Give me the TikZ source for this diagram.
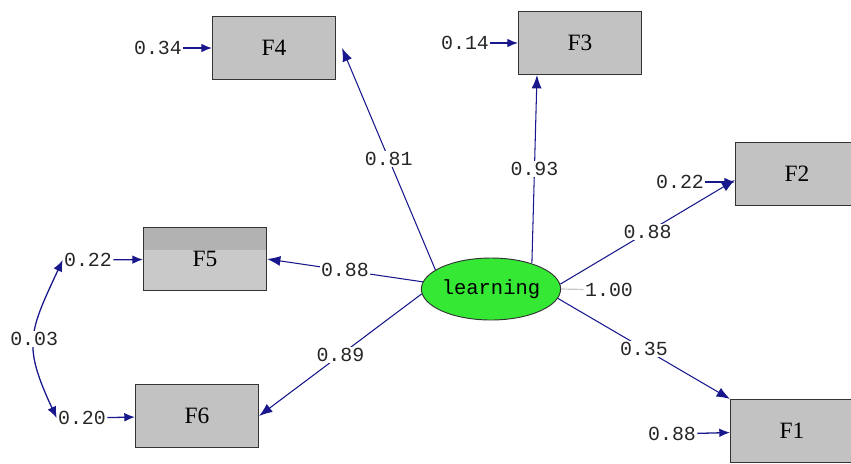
\documentclass[tikz,border=0pt]{standalone}
\usepackage{fontspec}
\setmainfont{Liberation Serif}
\setmonofont{Liberation Mono}
\usetikzlibrary{shapes.geometric,arrows.meta}
\definecolor{pathblue}{RGB}{24,24,140}
\definecolor{boxgray}{RGB}{194,194,194}
\definecolor{latgreen}{RGB}{52,232,52}

\begin{document}
\begin{tikzpicture}[x=0.03cm,y=0.03cm]
    \tikzstyle{var}=[rectangle, fill=boxgray, draw=black!80, line width=1.2pt, minimum width=3.68cm, minimum height=1.88cm, inner sep=0pt, font=\fontsize{20}{22}\selectfont]
    \tikzstyle{lat}=[ellipse, fill=latgreen, draw=black!80, line width=0.8pt, minimum width=3.72cm, minimum height=1.86cm, inner sep=0pt, font=\ttfamily\fontsize{17.5}{20}\selectfont]
    \tikzstyle{num}=[inner sep=1pt, font=\ttfamily\fontsize{17}{20}\selectfont, text=black!85]
    \tikzstyle{coef}=[num, fill=white]
    \tikzstyle{err}=[pathblue, line width=1.1pt, -{Latex[length=3.2mm,width=2.6mm]}]
    \tikzstyle{load}=[pathblue, line width=0.9pt, -{Latex[length=4mm,width=3mm]}]

    \useasboundingbox (0,0) rectangle (851,-463);

    \node[var] (f4) at (274,-48) {F4};
    \node[var] (f3) at (580,-43) {F3};
    \node[var] (f2) at (797,-174) {F2};
    \node[var, fill=black!21, path picture={\fill[black!30] (path picture bounding box.north west) rectangle ([yshift=-6.6mm]path picture bounding box.north east);}] (f5) at (205,-259) {F5};
    \node[var] (f6) at (197,-416) {F6};
    \node[var] (f1) at (792,-431) {F1};
    \node[lat] (learn) at (491,-289) {learning};

    % error variances
    \node[num] (e4) at (158,-48) {0.34};
    \node[num] (e3) at (465,-43) {0.14};
    \node[num] (e2) at (680,-182) {0.22};
    \node[num] (e5) at (88,-260) {0.22};
    \node[num] (e6) at (82,-418) {0.20};
    \node[num] (e1) at (672,-434) {0.88};
    \node[num] (one) at (609,-290) {1.00};

    \draw[err] (e4) -- (f4);
    \draw[err] (e3) -- (f3);
    \draw[err] (e2.east) -- (e2.east -| f2.west);
    \draw[err] (e5) -- (f5);
    \draw[err] (e6) -- (f6);
    \draw[err] (e1) -- (f1);

    % loadings
    \draw[load] (learn.161) -- node[coef] {0.81} ([xshift=1.8mm]f4.east);
    \draw[load] (learn.32) -- node[coef] {0.93} ([xshift=-12.9mm]f3.south);
    \draw[load] (learn.4) -- node[coef] {0.88} ([yshift=-1.8mm]f2.west);
    \draw[load] (learn.174) -- node[coef] {0.88} (f5.east);
    \draw[load] (learn.184) -- node[coef] {0.89} (f6.east);
    \draw[load] (learn.352) -- node[coef] {0.35} (f1.north west);
    \draw[gray!45, line width=1pt] (learn.east) -- (one);

    % covariance
    \draw[err, {Latex[length=3.4mm,width=2.8mm]}-{Latex[length=3.4mm,width=2.8mm]}] (e5.west) to[out=245, in=115, looseness=1.3] node[coef] {0.03} (e6.west);
\end{tikzpicture}
\end{document}
